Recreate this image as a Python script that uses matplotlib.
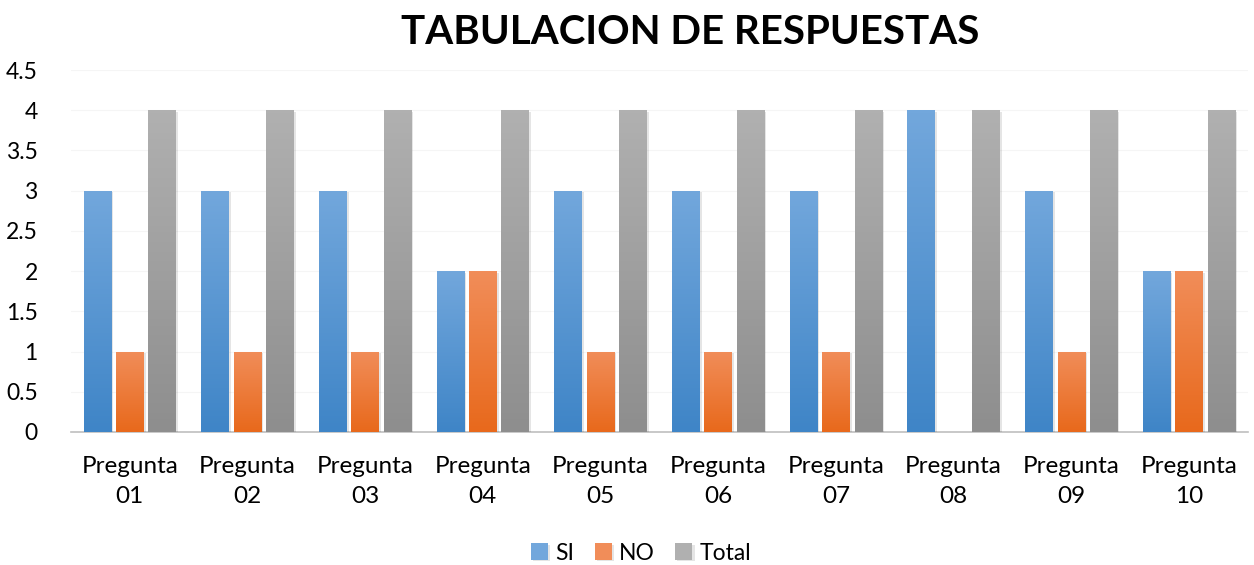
import numpy as np
import matplotlib.pyplot as plt
import matplotlib.patheffects as pe
from matplotlib.colors import LinearSegmentedColormap

plt.rcParams['font.family'] = ['Lato', 'DejaVu Sans']

categories = ["Pregunta\n01", "Pregunta\n02", "Pregunta\n03", "Pregunta\n04", "Pregunta\n05",
              "Pregunta\n06", "Pregunta\n07", "Pregunta\n08", "Pregunta\n09", "Pregunta\n10"]
si = [3, 3, 3, 2, 3, 3, 3, 4, 3, 2]
no = [1, 1, 1, 2, 1, 1, 1, 0, 1, 2]
total = [4, 4, 4, 4, 4, 4, 4, 4, 4, 4]

# (top colour, bottom colour) for the Excel-like gradient
grad = {
    "SI": ("#72a7dc", "#3f85c7"),
    "NO": ("#f18d59", "#e8691c"),
    "Total": ("#b0b0b0", "#8e8e8e"),
}

fig = plt.figure(figsize=(12.54, 5.65), dpi=100)
ax = fig.add_axes([0.0566, 0.2354, 0.9384, 0.6406])

x = np.arange(len(categories))
w = 0.233
off = 0.275
shadow = [pe.SimplePatchShadow(offset=(1.5, -1.0), shadow_rgbFace="#000000", alpha=0.10), pe.Normal()]

for vals, dx, name in [(si, -off, "SI"), (no, 0, "NO"), (total, off, "Total")]:
    top, bot = grad[name]
    cmap = LinearSegmentedColormap.from_list(name, [bot, top])
    bars = ax.bar(x + dx, vals, width=w, color=top, label=name, zorder=3, path_effects=shadow)
    for b in bars:
        h = b.get_height()
        if h <= 0:
            continue
        x0 = b.get_x()
        g = np.linspace(0, 1, 100).reshape(-1, 1)
        im = ax.imshow(g, cmap=cmap, origin="lower", aspect="auto",
                       extent=(x0, x0 + b.get_width(), 0, h), zorder=4)
        im.set_clip_path(b)

ax.set_xlim(-0.5, len(categories) - 0.5)
ax.set_ylim(0, 4.5)
ax.set_yticks(np.arange(0, 4.51, 0.5))
ax.set_yticklabels(["0", "0.5", "1", "1.5", "2", "2.5", "3", "3.5", "4", "4.5"])
ax.set_xticks(x)
ax.set_xticklabels(categories, linespacing=1.55)
ax.tick_params(axis="both", length=0, colors="#000000")
ax.tick_params(axis="x", pad=17, labelsize=17.5)
ax.tick_params(axis="y", pad=24, labelsize=16.5)
for lab in ax.get_yticklabels():
    lab.set_horizontalalignment("right")

for s in ["top", "right", "left"]:
    ax.spines[s].set_visible(False)
ax.spines["bottom"].set_color("#bfbfbf")
ax.spines["bottom"].set_linewidth(1.2)
ax.grid(axis="y", color="#f5f5f5", linewidth=0.8, zorder=0)
ax.set_axisbelow(True)

fig.text(690 / 1254, 1 - 33 / 565, "TABULACION DE RESPUESTAS", ha="center", va="center",
         fontsize=29, fontweight="bold")

handles, labels = ax.get_legend_handles_labels()
fig.legend(handles, labels, loc="center", bbox_to_anchor=(641 / 1254, 1 - 553 / 565), ncol=3,
           frameon=False, fontsize=16.5, handlelength=0.75, handleheight=0.75,
           handletextpad=0.3, columnspacing=0.9)

fig.savefig("out.png", dpi=100)
